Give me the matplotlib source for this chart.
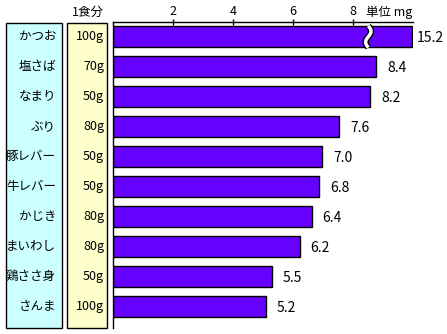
import numpy as np
import matplotlib.pyplot as plt
import matplotlib.transforms as mtransforms
from matplotlib.patches import Rectangle

plt.rcParams['font.family'] = ['Noto Sans CJK JP', 'DejaVu Sans']

foods = ['かつお', '塩さば', 'なまり', 'ぶり', '豚レバー', '牛レバー', 'かじき', 'まいわし', '鶏ささ身', 'さんま']
portions = ['100g', '70g', '50g', '80g', '50g', '50g', '80g', '80g', '50g', '100g']
values = ['15.2', '8.4', '8.2', '7.6', '7.0', '6.8', '6.4', '6.2', '5.5', '5.2']
# bar lengths as drawn on the axis (the first bar is broken)
bar_len = [9.97, 8.76, 8.56, 7.54, 6.96, 6.86, 6.62, 6.22, 5.29, 5.09]
xticks = [2, 4, 6, 8]

W, H = 447, 334
fig = plt.figure(figsize=(W / 100, H / 100), dpi=100)

def fx(px):
    return px / W

def fy(py):
    return 1 - py / H

ax = fig.add_axes([fx(113), fy(328), 300 / W, 306 / H])
y = np.arange(len(foods))
ax.barh(y, bar_len, height=0.7, color='#6600ff', edgecolor='black', linewidth=1)
ax.set_xlim(0, 10)
ax.set_ylim(9.70, -0.49)

for s in ['right', 'bottom']:
    ax.spines[s].set_visible(False)
ax.spines['top'].set_linewidth(1)
ax.spines['left'].set_linewidth(1)
ax.xaxis.tick_top()
ax.set_xticks(xticks)
ax.set_xticklabels([str(t) for t in xticks], fontsize=9)
ax.tick_params(axis='x', direction='inout', length=4, width=1, pad=1)
ax.set_yticks([])

# axis break on the first bar
t = np.linspace(-0.36, 0.36, 50)
bx = 8.51 - 0.09 * np.sin(t / 0.36 * np.pi)
ax.plot(bx, t, color='black', lw=4.5, solid_capstyle='butt', zorder=3)
ax.plot(bx, t, color='white', lw=2.5, solid_capstyle='butt', zorder=4)

# value labels
for i, (v, L) in enumerate(zip(values, bar_len)):
    pad = 3 if i == 0 else 8
    ax.annotate(v, (L, i), xytext=(pad, -1), textcoords='offset points',
                va='center', ha='left', fontsize=10)

fig.text(fx(412), fy(12), '単位 mg', ha='right', va='center', fontsize=9)

# left boxes
fig.add_artist(Rectangle((fx(6), fy(328)), 56 / W, 305 / H, transform=fig.transFigure,
                         facecolor='#ccffff', edgecolor='black', lw=1))
fig.add_artist(Rectangle((fx(67), fy(328)), 40 / W, 305 / H, transform=fig.transFigure,
                         facecolor='#ffffcc', edgecolor='black', lw=1))

tr = mtransforms.blended_transform_factory(fig.transFigure, ax.transData)
for i in range(len(foods)):
    fig.text(fx(56), i, foods[i], transform=tr, ha='right', va='center', fontsize=9)
    fig.text(fx(104), i, portions[i], transform=tr, ha='right', va='center', fontsize=9)

fig.text(fx(88), fy(12), '1食分', ha='center', va='center', fontsize=9)

fig.savefig('out.png', dpi=100)
